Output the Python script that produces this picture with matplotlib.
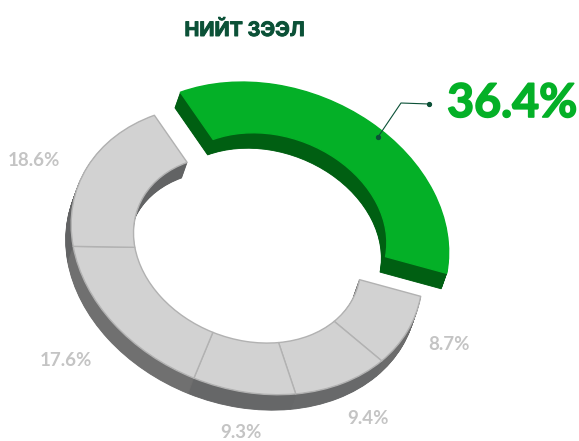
import numpy as np
import matplotlib
matplotlib.use("Agg")
import matplotlib.pyplot as plt
import matplotlib.patheffects as pe
from matplotlib.transforms import Transform, Affine2D

title = "НИЙТ ЗЭЭЛ"
shares = [36.4, 8.7, 9.4, 9.3, 17.6, 18.6]
labels = ["36.4%", "8.7%", "9.4%", "9.3%", "17.6%", "18.6%"]

top_colors = ["#04b027", "#d2d2d2", "#d2d2d2", "#d2d2d2", "#d2d2d2", "#d2d2d2"]
edge_colors = ["#04b027", "#b2b2b2", "#b2b2b2", "#b2b2b2", "#b2b2b2", "#b2b2b2"]
wall_colors = ["#005f12", "#6c6c6c", "#68696a", "#666768", "#707070", "#626364"]
label_pos = [(512, 103), (449, 345), (368, 419), (241, 433), (66, 361), (34, 160)]

HOLE = 0.6467
DEPTH = (-5.5, 15.5)
GREEN_SHIFT = (26, -23)


class Tilt(Transform):
    # pie coordinates -> picture pixels, fitted on the slice corners
    input_dims = 2
    output_dims = 2

    def transform_non_affine(self, xy):
        xy = np.asarray(xy)
        u, v = xy[:, 0], xy[:, 1]
        w = 0.0046091 * u + 0.0047503 * v + 1
        x = (165.9981 * u - 59.7488 * v + 247.3793) / w
        y = (-24.4026 * u - 141.3539 * v + 249.0786) / w
        return np.column_stack([x, y])


def draw_ring(ax, idx, colors, edges, off, zorder):
    # whole pie every time, the slices not asked for are dropped
    wedges, _ = ax.pie(shares, startangle=101.8, counterclock=False, radius=1,
                       colors=colors, wedgeprops=dict(width=1 - HOLE, linewidth=0))
    for i, w in enumerate(wedges):
        if i not in idx:
            w.remove()
            continue
        dx, dy = off
        if i == 0:
            dx += GREEN_SHIFT[0]
            dy += GREEN_SHIFT[1]
        w.set_transform(Tilt() + Affine2D().translate(dx, dy) + ax.transData)
        w.set_zorder(zorder)
        if edges is not None:
            w.set_edgecolor(edges[i])
            w.set_linewidth(1.0)
            w.set_joinstyle("round")
        else:
            w.set_edgecolor(colors[i])
            w.set_linewidth(0.6)


fig = plt.figure(figsize=(5.79, 4.41), dpi=100)
ax = fig.add_axes([0, 0, 1, 1])

# gray part first, then the green slice
for n, group in enumerate([[1, 2, 3, 4, 5], [0]]):
    base = 2 + n * 3
    for t in np.linspace(1, 0.05, 24):
        draw_ring(ax, group, wall_colors, None, (DEPTH[0] * t, DEPTH[1] * t), base)
    draw_ring(ax, group, top_colors, edge_colors, (0, 0), base + 1)

ax.set_aspect("auto")
ax.set_xlim(0, 579)
ax.set_ylim(441, 0)
ax.axis("off")

ax.text(244.5, 30.5, title, color="#0b5137", fontsize=14.3, fontweight="bold",
        family="Inter", ha="center", va="center",
        path_effects=[pe.withStroke(linewidth=0.7, foreground="#0b5137")])

for i, (txt, pos) in enumerate(zip(labels, label_pos)):
    if i == 0:
        ax.text(pos[0], pos[1], txt, color="#04b027", fontsize=33.5, fontweight="bold",
                family="Lato", ha="center", va="center", zorder=10,
                path_effects=[pe.withStroke(linewidth=1.2, foreground="#04b027")])
    else:
        ax.text(pos[0], pos[1], txt, color="#c4c4c4", fontsize=13.5, fontweight="bold",
                family="Lato", ha="center", va="center", zorder=10)

# leader line of the green slice
ax.plot([378, 401, 429], [137, 103, 104], color="#0b5137", lw=0.8, zorder=9)
ax.plot([378, 429], [137, 104], "o", color="#0b5137", ms=2.8, zorder=9)

fig.savefig("out.png", dpi=100)
